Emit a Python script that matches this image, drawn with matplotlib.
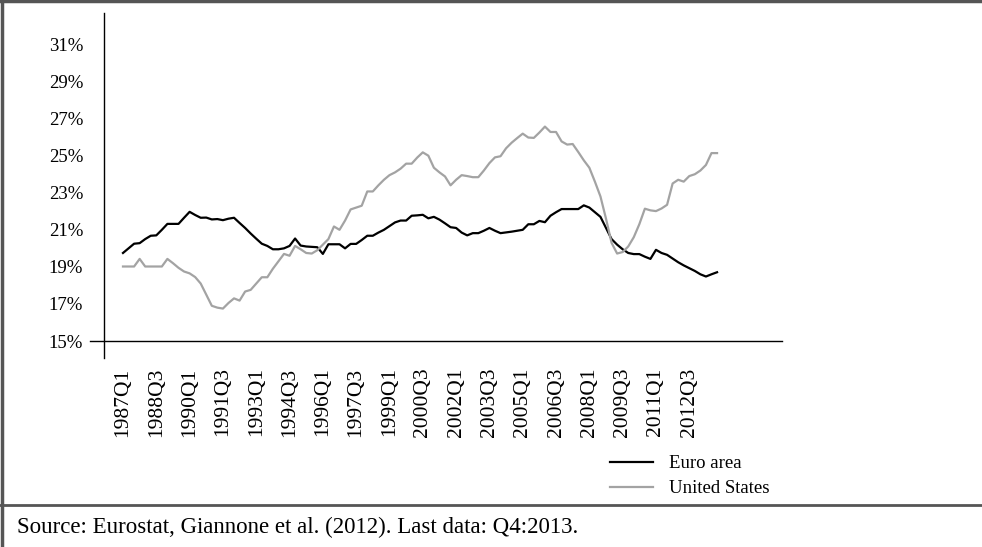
import matplotlib
matplotlib.use("Agg")
import matplotlib.pyplot as plt
import numpy as np
from matplotlib.lines import Line2D

# quarterly data, 1987Q1 .. 2013Q4
years = list(range(1987, 2014))
quarters = [f"{y}Q{q}" for y in years for q in range(1, 5)]

euro_area = [
    19.75, 20.0, 20.25, 20.28, 20.5, 20.68, 20.7, 21.0, 21.32, 21.32,
    21.32, 21.65, 21.97, 21.8, 21.65, 21.66, 21.56, 21.58, 21.52, 21.6,
    21.65, 21.37, 21.1, 20.8, 20.52, 20.25, 20.13, 19.95, 19.95, 20.0,
    20.13, 20.53, 20.15, 20.1, 20.08, 20.06, 19.7, 20.22, 20.22, 20.22,
    20.0, 20.24, 20.24, 20.45, 20.68, 20.68, 20.85, 21.0, 21.2, 21.4,
    21.5, 21.5, 21.76, 21.78, 21.81, 21.62, 21.7, 21.55, 21.35, 21.14,
    21.1, 20.85, 20.7, 20.82, 20.82, 20.95, 21.1, 20.95, 20.82, 20.86,
    20.9, 20.95, 21.0, 21.3, 21.3, 21.48, 21.41, 21.76, 21.95, 22.12,
    22.12, 22.12, 22.12, 22.32, 22.2, 21.95, 21.7, 21.1, 20.5, 20.2,
    19.95, 19.75, 19.69, 19.69, 19.55, 19.43, 19.92, 19.75, 19.65, 19.45,
    19.25, 19.08, 18.93, 18.78, 18.6, 18.48, 18.6, 18.71,
]

united_states = [
    19.02, 19.02, 19.02, 19.43, 19.02, 19.02, 19.02, 19.02, 19.43, 19.2,
    18.95, 18.75, 18.65, 18.45, 18.1, 17.5, 16.9, 16.8, 16.75, 17.05,
    17.3, 17.18, 17.67, 17.76, 18.1, 18.44, 18.44, 18.9, 19.3, 19.7,
    19.6, 20.13, 19.95, 19.75, 19.72, 19.9, 20.2, 20.5, 21.18, 21.0,
    21.5, 22.1, 22.2, 22.3, 23.07, 23.07, 23.4, 23.7, 23.95, 24.1,
    24.3, 24.57, 24.57, 24.9, 25.18, 25.0, 24.35, 24.1, 23.88, 23.4,
    23.7, 23.95, 23.9, 23.84, 23.84, 24.2, 24.6, 24.91, 24.97, 25.4,
    25.7, 25.95, 26.19, 25.98, 25.96, 26.25, 26.57, 26.28, 26.28, 25.77,
    25.6, 25.63, 25.2, 24.75, 24.35, 23.6, 22.8, 21.6, 20.3, 19.72,
    19.8, 20.1, 20.6, 21.3, 22.14, 22.05, 22.01, 22.15, 22.35, 23.5,
    23.7, 23.6, 23.9, 24.0, 24.2, 24.5, 25.14, 25.14,
]

y_ticks = [15, 17, 19, 21, 23, 25, 27, 29, 31]
source_note = "Source: Eurostat, Giannone et al. (2012). Last data: Q4:2013."

plt.rcParams["font.family"] = ["Liberation Serif", "DejaVu Serif"]

fig = plt.figure(figsize=(9.82, 5.47), dpi=100)
ax = fig.add_axes([104 / 982, 1 - 341 / 547, 678 / 982, 328 / 547])

x = np.arange(len(quarters))
ax.plot(x, euro_area, color="black", lw=1.6, label="Euro area")
ax.plot(x, united_states, color="#a3a3a3", lw=1.6, label="United States")

ax.set_xlim(-3.42, 118.7)
ax.set_ylim(15, 32.7)

for side in ["top", "right", "left", "bottom"]:
    ax.spines[side].set_visible(False)

# axes drawn as crossing lines like the original
ax.plot([-14 / 678, 1], [0, 0], transform=ax.transAxes, color="black", lw=1.0, clip_on=False)
ax.plot([0, 0], [-17 / 328, 1], transform=ax.transAxes, color="black", lw=1.0, clip_on=False)

ax.set_yticks(y_ticks)
ax.set_yticklabels([f"{v}%" for v in y_ticks], fontsize=13.5)
ax.tick_params(axis="y", length=0, pad=15)

tick_pos = x[::6]
ax.set_xticks(tick_pos)
ax.set_xticklabels([quarters[i] for i in tick_pos], rotation=90, fontsize=15.5, va="top")
ax.tick_params(axis="x", length=0, pad=19)

ax.legend(loc="upper left", bbox_to_anchor=(610 / 982, 1 - 455 / 547), bbox_transform=fig.transFigure,
          frameon=False, fontsize=13.5, handlelength=2.3, handletextpad=0.85, labelspacing=0.42,
          borderpad=0, borderaxespad=0)

# frame around figure and source area
fig.add_artist(Line2D([0, 1], [1 - 1 / 547, 1 - 1 / 547], color="#555555", lw=2.5))
fig.add_artist(Line2D([1.5 / 982, 1.5 / 982], [0, 1], color="#555555", lw=2.5))
fig.add_artist(Line2D([0, 1], [1 - 505 / 547, 1 - 505 / 547], color="#555555", lw=2.0))

fig.text(17 / 982, 1 - 527 / 547, source_note, fontsize=16.5, va="center", ha="left")

fig.savefig("out.png", dpi=100)
